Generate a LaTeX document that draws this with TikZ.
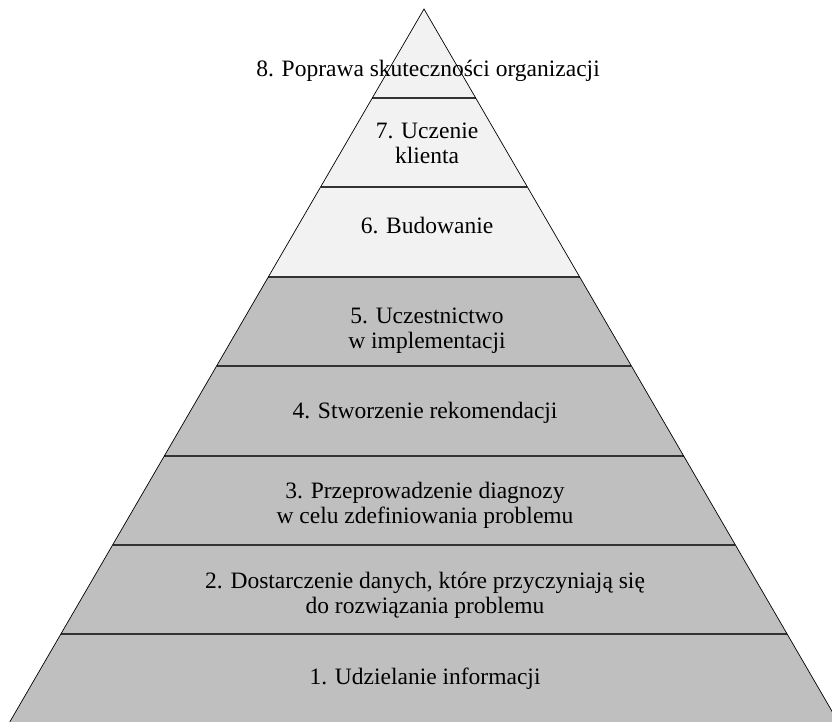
\documentclass[tikz,border=0pt]{standalone}
\usepackage{fontspec}
\setmainfont{Liberation Serif}
\begin{document}
\begin{tikzpicture}[x=1pt,y=-1pt,
  lightband/.style={fill=black!5},
  darkband/.style={fill=black!25},
  sep/.style={draw=black!80,line width=2pt},
  edge/.style={draw=black,line width=0.7pt},
  lbl/.style={anchor=base,align=center,inner sep=0pt,
    font=\fontsize{23.5pt}{25pt}\selectfont}]
  \useasboundingbox (0,0) rectangle (832,721);
  \begin{scope}
    \clip (0,0) rectangle (832,721);
    % band edges along the two sides: x = 424 -/+ 0.581 (y - 9)
    \foreach \ya/\yb/\st in {9/98/lightband,98/187/lightband,187/277/lightband,
        277/366/darkband,366/456/darkband,456/545/darkband,545/634/darkband,634/730/darkband}{
      \path[\st] ({424-0.581*(\ya-9)},\ya) -- ({424+0.581*(\ya-9)},\ya)
        -- ({424+0.581*(\yb-9)},\yb) -- ({424-0.581*(\yb-9)},\yb) -- cycle;
    }
    % separators between levels
    \foreach \y in {98,187,277,366,456,545,634}{
      \draw[sep] ({424-0.581*(\y-9)},\y) -- ({424+0.581*(\y-9)},\y);
    }
    % outline of the pyramid
    \coordinate (apex) at (424,9);
    \coordinate (bl) at ({424-0.581*721},730);
    \coordinate (br) at ({424+0.581*721},730);
    \draw[edge] (bl) -- (apex) -- (br);
  \end{scope}
  % level labels (base anchor sits on the last line of a label)
  \node[lbl] (l8) at (428,76) {8. Poprawa skuteczności organizacji};
  \node[lbl] (l7) at (427,163) {7. Uczenie\\klienta};
  \node[lbl] (l6) at (427,233) {6. Budowanie};
  \node[lbl] (l5) at (427,348) {5. Uczestnictwo\\w implementacji};
  \node[lbl] (l4) at (425,418) {4. Stworzenie rekomendacji};
  \node[lbl] (l3) at (425,523) {3. Przeprowadzenie diagnozy\\w celu zdefiniowania problemu};
  \node[lbl] (l2) at (425,613) {2. Dostarczenie danych, które przyczyniają się\\do rozwiązania problemu};
  \node[lbl] (l1) at (425,684) {1. Udzielanie informacji};
\end{tikzpicture}
\end{document}
